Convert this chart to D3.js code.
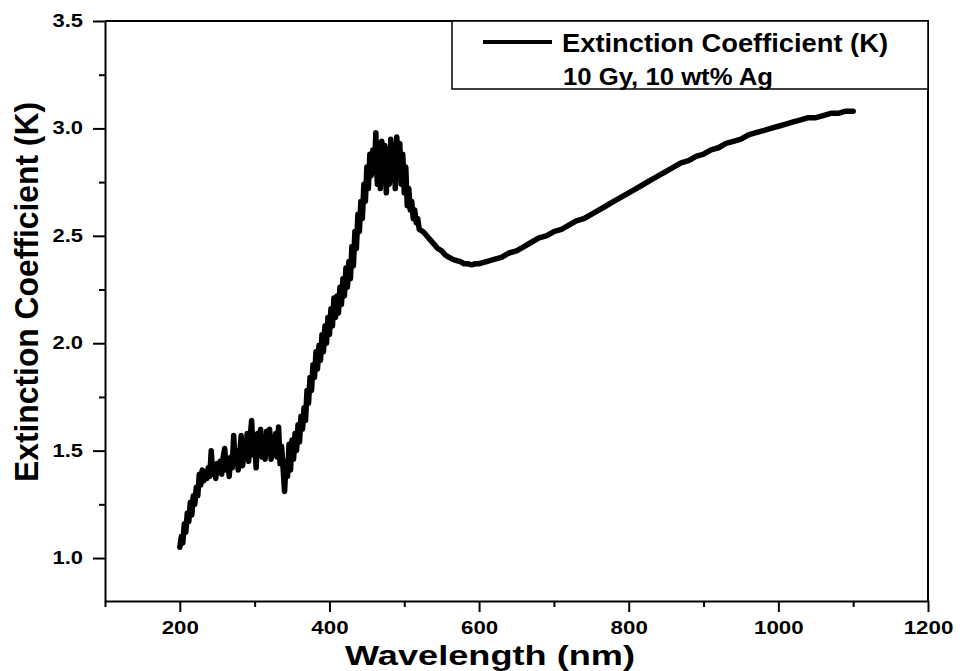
<!DOCTYPE html>
<html>
<head>
<meta charset="utf-8">
<script src="https://cdn.jsdelivr.net/npm/d3@7"></script>
<style>
  html, body { margin: 0; padding: 0; background: #fff; }
  svg { display: block; }
  text { font-family: "Liberation Sans", Arial, sans-serif; font-weight: bold; fill: #000; }
</style>
</head>
<body>
<svg id="chart" width="964" height="671"></svg>
<script>
// Wavelength samples (nm) and extinction coefficient K
const wavelengths = [
  200,202,204,206,208,210,212,214,216,218,220,222,224,226,228,230,232,234,236,238,
  240,242,244,246,248,250,252,254,256,258,260,262,264,266,268,270,272,274,276,278,
  280,282,284,286,288,290,292,294,296,298,300,302,304,306,308,310,312,314,316,318,
  320,322,324,326,328,330,332,334,336,338,340,342,344,346,348,350,352,354,356,358,
  360,362,364,366,368,370,372,374,376,378,380,382,384,386,388,390,392,394,396,398,
  400,402,404,406,408,410,412,414,416,418,420,422,424,426,428,430,432,434,436,438,
  440,442,444,446,448,450,452,454,456,458,460,462,464,466,468,470,472,474,476,478,
  480,482,484,486,488,490,492,494,496,498,500,502,504,506,508,510,512,514,516,518,
  520,525,530,535,540,545,550,555,560,565,570,575,580,585,590,595,600,605,610,620,
  630,640,650,660,670,680,690,700,710,720,730,740,750,760,770,780,790,800,810,820,
  830,840,850,860,870,880,890,900,910,920,930,940,950,960,970,980,990,1000,1010,1020,
  1030,1040,1050,1060,1070,1080,1090,1100
];
const kValues = [
  1.05,1.10,1.07,1.16,1.12,1.21,1.17,1.26,1.20,1.29,1.25,1.33,1.29,1.39,1.34,1.41,1.36,1.40,1.37,1.42,
  1.38,1.50,1.39,1.43,1.37,1.44,1.40,1.45,1.39,1.47,1.51,1.41,1.46,1.38,1.47,1.42,1.57,1.44,1.50,1.41,
  1.48,1.57,1.43,1.54,1.47,1.58,1.45,1.56,1.64,1.48,1.55,1.42,1.58,1.50,1.60,1.47,1.56,1.46,1.59,1.49,
  1.60,1.46,1.55,1.48,1.58,1.47,1.61,1.44,1.52,1.42,1.31,1.45,1.38,1.53,1.41,1.55,1.46,1.58,1.50,1.62,
  1.54,1.66,1.60,1.70,1.64,1.78,1.72,1.84,1.78,1.90,1.84,1.96,1.88,1.99,1.92,2.04,1.96,2.08,2.00,2.12,
  2.04,2.16,2.08,2.21,2.12,2.22,2.14,2.26,2.18,2.30,2.22,2.35,2.26,2.38,2.30,2.45,2.36,2.52,2.44,2.60,
  2.52,2.66,2.58,2.74,2.66,2.82,2.72,2.88,2.78,2.90,2.80,2.98,2.74,2.93,2.72,2.94,2.76,2.92,2.70,2.90,
  2.74,2.95,2.76,2.92,2.72,2.96,2.78,2.93,2.74,2.88,2.70,2.82,2.64,2.72,2.62,2.66,2.58,2.62,2.56,2.58,
  2.53,2.52,2.50,2.48,2.46,2.44,2.43,2.41,2.40,2.39,2.385,2.38,2.37,2.37,2.365,2.37,2.37,2.375,2.38,2.39,
  2.40,2.42,2.43,2.45,2.47,2.49,2.50,2.52,2.53,2.55,2.57,2.58,2.60,2.62,2.64,2.66,2.68,2.70,2.72,2.74,
  2.76,2.78,2.80,2.82,2.84,2.85,2.87,2.88,2.90,2.91,2.93,2.94,2.95,2.97,2.98,2.99,3.00,3.01,3.02,3.03,
  3.04,3.05,3.05,3.06,3.07,3.07,3.08,3.08
];

// Axis ticks
const xMajorTicks = [200, 400, 600, 800, 1000, 1200];
const xMinorTicks = [100, 300, 500, 700, 900, 1100];
const yMajorTicks = [1.0, 1.5, 2.0, 2.5, 3.0, 3.5];
const yMinorTicks = [1.25, 1.75, 2.25, 2.75, 3.25];

const legendTitle = "Extinction Coefficient (K)";
const legendNote = "10 Gy, 10 wt% Ag";
const xTitle = "Wavelength (nm)";
const yTitle = "Extinction Coefficient (K)";

const points = wavelengths.map((w, i) => ({ w, k: kValues[i] }));

const svg = d3.select("#chart");
const plot = { left: 105, right: 928, top: 21, bottom: 601 };

const x = d3.scaleLinear().domain([100, 1200]).range([plot.left, plot.right]);
const y = d3.scaleLinear().domain([0.8, 3.5]).range([plot.bottom, plot.top]);

// Data line
svg.append("path")
  .datum(points)
  .attr("fill", "none")
  .attr("stroke", "#000")
  .attr("stroke-width", 5.5)
  .attr("stroke-linejoin", "round")
  .attr("stroke-linecap", "round")
  .attr("d", d3.line().x(d => x(d.w)).y(d => y(d.k)));

// Frame: top and right edges
svg.append("path")
  .attr("d", `M${plot.left},${plot.top}H${plot.right}V${plot.bottom}`)
  .attr("fill", "none")
  .attr("stroke", "#000")
  .attr("stroke-width", 2);

// Bottom axis
const gx = svg.append("g").attr("transform", `translate(0,${plot.bottom})`);
gx.call(d3.axisBottom(x).tickValues(xMinorTicks).tickSize(6).tickFormat(""));
gx.call(g => g.select(".domain").remove());
const gxMajor = svg.append("g").attr("transform", `translate(0,${plot.bottom})`)
  .call(d3.axisBottom(x).tickValues(xMajorTicks).tickSize(11).tickSizeOuter(0).tickFormat(d3.format("d")));
gxMajor.select(".domain").attr("stroke-width", 2);
gxMajor.selectAll(".tick text")
  .attr("y", 33).attr("dy", 0)
  .attr("font-size", 18)
  .attr("transform", "scale(1.24,1)");

// Left axis
const gy = svg.append("g").attr("transform", `translate(${plot.left},0)`);
gy.call(d3.axisLeft(y).tickValues(yMinorTicks).tickSize(6).tickFormat(""));
gy.call(g => g.select(".domain").remove());
const gyMajor = svg.append("g").attr("transform", `translate(${plot.left},0)`)
  .call(d3.axisLeft(y).tickValues(yMajorTicks).tickSize(12).tickSizeOuter(0).tickFormat(d3.format(".1f")));
gyMajor.select(".domain").attr("stroke-width", 2);
gyMajor.selectAll(".tick text")
  .attr("x", -22 / 1.22).attr("dy", "0.3em")
  .attr("font-size", 18)
  .attr("transform", "scale(1.22,1)");

svg.selectAll(".tick line").attr("stroke-width", 2);
svg.selectAll(".tick text").attr("font-family", null).attr("fill", "#000");

// Axis titles
svg.append("text")
  .attr("x", 490).attr("y", 665)
  .attr("text-anchor", "middle")
  .attr("font-size", 28.5)
  .attr("textLength", 290).attr("lengthAdjust", "spacingAndGlyphs")
  .text(xTitle);

svg.append("text")
  .attr("transform", "translate(38,292) rotate(-90)")
  .attr("text-anchor", "middle")
  .attr("font-size", 34)
  .attr("textLength", 380).attr("lengthAdjust", "spacingAndGlyphs")
  .text(yTitle);

// Legend
const legend = svg.append("g");
legend.append("rect")
  .attr("x", 452).attr("y", plot.top)
  .attr("width", plot.right - 452).attr("height", 68)
  .attr("fill", "#fff").attr("stroke", "#000").attr("stroke-width", 1.5);
legend.append("line")
  .attr("x1", 483).attr("x2", 552).attr("y1", 42).attr("y2", 42)
  .attr("stroke", "#000").attr("stroke-width", 4);
legend.append("text")
  .attr("x", 562).attr("y", 52)
  .attr("font-size", 25)
  .attr("textLength", 326).attr("lengthAdjust", "spacingAndGlyphs")
  .text(legendTitle);
legend.append("text")
  .attr("x", 563).attr("y", 85)
  .attr("font-size", 24)
  .attr("textLength", 210).attr("lengthAdjust", "spacingAndGlyphs")
  .text(legendNote);
</script>
</body>
</html>
